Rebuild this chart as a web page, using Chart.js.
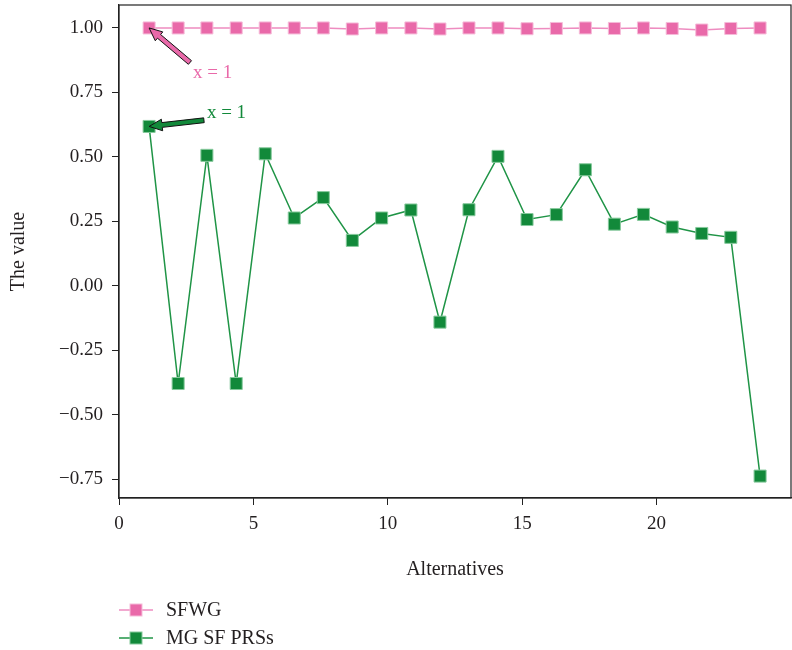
<!DOCTYPE html>
<html>
<head>
<meta charset="utf-8">
<script src="https://cdn.jsdelivr.net/npm/chart.js@4/dist/chart.umd.min.js"></script>
<style>
  html, body { margin: 0; padding: 0; background: #ffffff; }
  #wrap { width: 792px; height: 650px; }
</style>
</head>
<body>
<div id="wrap"><canvas id="c" width="792" height="650"></canvas></div>
<script>
// ---- data ----
const alternativesX = [1.12, 2.20, 3.27, 4.36, 5.44, 6.52, 7.60, 8.68, 9.77, 10.86, 11.94,
                       13.02, 14.10, 15.18, 16.27, 17.35, 18.43, 19.51, 20.58, 21.68, 22.76, 23.85];
const sfwgValues = [1.000, 1.000, 1.000, 1.000, 1.000, 1.000, 1.000, 0.996, 1.000, 1.000, 0.996,
                    1.000, 1.000, 0.997, 0.998, 1.000, 0.998, 1.000, 0.998, 0.992, 0.998, 1.000];
const mgsfValues = [0.618, -0.379, 0.506, -0.379, 0.512, 0.263, 0.342, 0.176, 0.263, 0.294, -0.141,
                    0.295, 0.502, 0.257, 0.276, 0.450, 0.239, 0.277, 0.228, 0.203, 0.188, -0.738];
const seriesNames = ['SFWG', 'MG SF PRSs'];
const xTickValues = [0, 5, 10, 15, 20];
const yTickValues = [-0.75, -0.50, -0.25, 0.00, 0.25, 0.50, 0.75, 1.00];
const xTitle = 'Alternatives';
const yTitle = 'The value';
const annotationLabels = ['x = 1', 'x = 1'];

// ---- styles / annotation placement (data coordinates) ----
const PINK = '#e969a9', PINK_LINE = '#ee8cc0', PINK_EDGE = '#f6bcd9';
const GREEN = '#12893a', GREEN_LINE = '#1f9446', GREEN_EDGE = '#86c99c';
const SERIF = '"Liberation Serif", "Times New Roman", serif';
const TEXT = '#231f20';
const annotationPlacement = [
  { series: 0, point: 0, textX: 2.75, textY: 0.827, tailX: 2.64, tailY: 0.866, color: PINK },
  { series: 1, point: 0, textX: 3.27, textY: 0.672, tailX: 3.16, tailY: 0.642, color: GREEN }
];

function toPoints(xs, ys) { return xs.map((x, i) => ({ x: x, y: ys[i] })); }

function drawArrow(ctx, x0, y0, x1, y1, fill) {
  const dx = x1 - x0, dy = y1 - y0, L = Math.hypot(dx, dy);
  const ux = dx / L, uy = dy / L, nx = -uy, ny = ux;
  const w = 2.4, hw = 5.8, hl = 13;
  const bx = x1 - ux * hl, by = y1 - uy * hl;
  ctx.save();
  ctx.beginPath();
  ctx.moveTo(x0 + nx * w, y0 + ny * w);
  ctx.lineTo(bx + nx * w, by + ny * w);
  ctx.lineTo(bx + nx * hw, by + ny * hw);
  ctx.lineTo(x1, y1);
  ctx.lineTo(bx - nx * hw, by - ny * hw);
  ctx.lineTo(bx - nx * w, by - ny * w);
  ctx.lineTo(x0 - nx * w, y0 - ny * w);
  ctx.closePath();
  ctx.fillStyle = fill;
  ctx.fill();
  ctx.lineWidth = 1;
  ctx.strokeStyle = '#111';
  ctx.stroke();
  ctx.restore();
}

const framePlugin = {
  id: 'frame',
  beforeDatasetsDraw(chart) {
    const { ctx, chartArea: a } = chart;
    ctx.save();
    ctx.strokeStyle = '#222';
    ctx.lineWidth = 1.2;
    ctx.strokeRect(a.left, a.top, a.right - a.left, a.bottom - a.top);
    ctx.restore();
  },
  afterDraw(chart) {
    const { ctx } = chart;
    const xs = chart.scales.x, ys = chart.scales.y;
    annotationPlacement.forEach((an, i) => {
      const ds = chart.data.datasets[an.series].data[an.point];
      const tipX = xs.getPixelForValue(ds.x), tipY = ys.getPixelForValue(ds.y);
      const tx = xs.getPixelForValue(an.tailX), ty = ys.getPixelForValue(an.tailY);
      drawArrow(ctx, tx, ty, tipX, tipY, an.color);
      ctx.save();
      ctx.font = '19px ' + SERIF;
      ctx.fillStyle = an.color;
      ctx.textAlign = 'left';
      ctx.textBaseline = 'middle';
      ctx.fillText(annotationLabels[i], xs.getPixelForValue(an.textX), ys.getPixelForValue(an.textY));
      ctx.restore();
    });
    const rows = [610, 638];
    chart.data.datasets.forEach((d, i) => {
      const y = rows[i];
      ctx.save();
      ctx.strokeStyle = d.borderColor;
      ctx.lineWidth = 1.5;
      ctx.beginPath();
      ctx.moveTo(119, y); ctx.lineTo(153, y);
      ctx.stroke();
      ctx.fillStyle = d.pointBackgroundColor;
      ctx.strokeStyle = d.pointBorderColor;
      ctx.lineWidth = 1;
      ctx.fillRect(130, y - 6, 12, 12);
      ctx.strokeRect(130, y - 6, 12, 12);
      ctx.font = '20px ' + SERIF;
      ctx.fillStyle = TEXT;
      ctx.textAlign = 'left';
      ctx.textBaseline = 'middle';
      ctx.fillText(d.label, 166, y + 1);
      ctx.restore();
    });
  }
};

new Chart(document.getElementById('c'), {
  type: 'line',
  data: {
    datasets: [
      {
        label: seriesNames[0],
        data: toPoints(alternativesX, sfwgValues),
        borderColor: PINK_LINE, borderWidth: 1.5,
        pointStyle: 'rect', pointRadius: 8.5, pointHoverRadius: 8.5,
        pointBackgroundColor: PINK, pointBorderColor: PINK_EDGE, pointBorderWidth: 1
      },
      {
        label: seriesNames[1],
        data: toPoints(alternativesX, mgsfValues),
        borderColor: GREEN_LINE, borderWidth: 1.5,
        pointStyle: 'rect', pointRadius: 8.5, pointHoverRadius: 8.5,
        pointBackgroundColor: GREEN, pointBorderColor: GREEN_EDGE, pointBorderWidth: 1
      }
    ]
  },
  options: {
    responsive: false,
    animation: false,
    devicePixelRatio: 1,
    layout: { autoPadding: false, padding: { left: 0, right: 1, top: 5, bottom: 62 } },
    plugins: { legend: { display: false }, tooltip: { enabled: false } },
    elements: { line: { tension: 0 } },
    scales: {
      x: {
        type: 'linear', min: 0, max: 25,
        afterBuildTicks: s => { s.ticks = xTickValues.map(v => ({ value: v })); },
        afterFit: s => { s.height = 90; s.paddingLeft = 0; s.paddingRight = 0; },
        grid: { display: true, drawOnChartArea: false, drawTicks: true, tickLength: 7, color: '#222' },
        border: { display: true, color: '#222', width: 1.2 },
        ticks: { font: { family: SERIF, size: 19 }, color: TEXT, padding: 8, maxRotation: 0,
                 callback: v => String(v) },
        title: { display: true, text: xTitle, font: { family: SERIF, size: 20 }, color: TEXT,
                 padding: { top: 0, bottom: 6 } }
      },
      y: {
        type: 'linear', min: -0.823, max: 1.089,
        afterBuildTicks: s => { s.ticks = yTickValues.map(v => ({ value: v })); },
        afterFit: s => { s.width = 119; s.paddingTop = 0; s.paddingBottom = 0; },
        grid: { display: true, drawOnChartArea: false, drawTicks: true, tickLength: 7, color: '#222' },
        border: { display: true, color: '#222', width: 1.2 },
        ticks: { font: { family: SERIF, size: 19 }, color: TEXT, padding: 9,
                 callback: v => v.toFixed(2).replace('-', '\u2212') },
        title: { display: true, text: yTitle, font: { family: SERIF, size: 20 }, color: TEXT,
                 padding: { top: 7, bottom: 0 } }
      }
    }
  },
  plugins: [framePlugin]
});
</script>
</body>
</html>
